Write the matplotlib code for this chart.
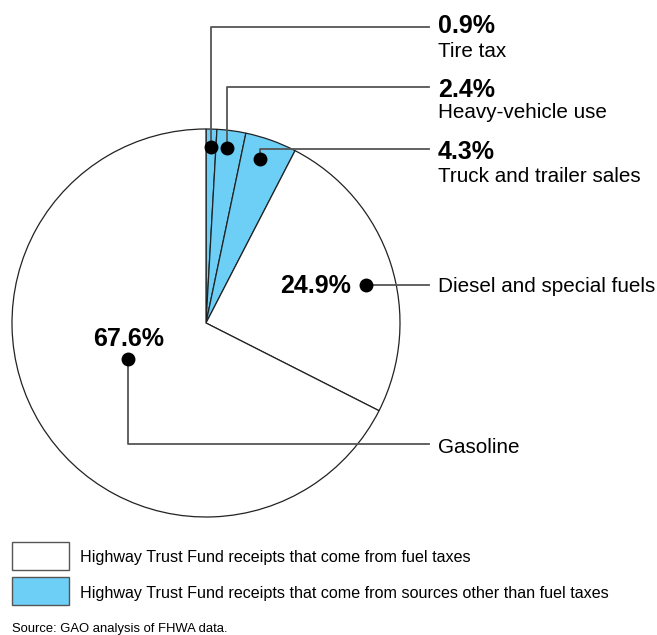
import matplotlib.pyplot as plt
from matplotlib.patches import Rectangle

plt.rcParams['font.family'] = ['Liberation Sans', 'DejaVu Sans']

# data, clockwise from 12 o'clock
names = ["Tire tax", "Heavy-vehicle use", "Truck and trailer sales",
         "Diesel and special fuels", "Gasoline"]
shares = [0.9, 2.4, 4.3, 24.9, 67.6]
is_fuel = [False, False, False, True, True]
legend_labels = ["Highway Trust Fund receipts that come from fuel taxes",
                 "Highway Trust Fund receipts that come from sources other than fuel taxes"]
source = "Source: GAO analysis of FHWA data."

FUEL = "white"
OTHER = "#6DCFF6"
W, H = 657, 635
PCT_SIZE = 18
NAME_SIZE = 14.9


def Y(y):
    # pixel row -> data y
    return H - y


fig = plt.figure(figsize=(W / 100, H / 100), dpi=100)
ax = fig.add_axes([0, 0, 1, 1])

cx, cy, r = 206, Y(323), 194
ax.pie(shares, colors=[FUEL if f else OTHER for f in is_fuel],
       startangle=90, counterclock=False, center=(cx, cy), radius=r,
       wedgeprops=dict(edgecolor='#222222', linewidth=0.9), frame=True)
ax.set_xlim(0, W)
ax.set_ylim(0, H)
ax.set_aspect('equal')
ax.axis('off')

line_kw = dict(color='#555555', lw=1.3, zorder=5)
dot_kw = dict(color='black', ms=9, marker='o', zorder=6)
tx = 438
line_end = 429

# small wedges: leader goes up then right, (dot, line row, pct baseline, name baseline)
leaders = [((211, 147), 27, 33, 57),
           ((227, 148), 87, 97, 118),
           ((260, 159), 149, 159, 182)]
for i, ((dx, dy), ly, pb, nb) in enumerate(leaders):
    ax.plot([dx, dx, line_end], [Y(dy), Y(ly), Y(ly)], **line_kw)
    ax.plot(dx, Y(dy), **dot_kw)
    ax.text(tx, Y(pb), f"{shares[i]}%", fontsize=PCT_SIZE, fontweight='bold',
            va='baseline', ha='left')
    ax.text(tx, Y(nb), names[i], fontsize=NAME_SIZE, va='baseline', ha='left')

# diesel
ax.plot([366, line_end], [Y(285), Y(285)], **line_kw)
ax.plot(366, Y(285), **dot_kw)
ax.text(351, Y(293), f"{shares[3]}%", fontsize=PCT_SIZE, fontweight='bold',
        va='baseline', ha='right')
ax.text(tx, Y(292), names[3], fontsize=NAME_SIZE, va='baseline', ha='left')

# gasoline
ax.plot([128, 128, line_end], [Y(359), Y(444), Y(444)], **line_kw)
ax.plot(128, Y(359), **dot_kw)
ax.text(129, Y(346), f"{shares[4]}%", fontsize=PCT_SIZE, fontweight='bold',
        va='baseline', ha='center')
ax.text(tx, Y(453), names[4], fontsize=NAME_SIZE, va='baseline', ha='left')

# legend
box_tops = [542, 577]
text_base = [562, 598]
for lab, col, top, tb in zip(legend_labels, [FUEL, OTHER], box_tops, text_base):
    ax.add_patch(Rectangle((12, Y(top + 28)), 57, 28, facecolor=col,
                           edgecolor='#555555', lw=1.0))
    ax.text(80, Y(tb), lab, fontsize=11.6, va='baseline', ha='left')

ax.text(12, Y(632), source, fontsize=9.4, va='baseline', ha='left')

fig.savefig("out.png", dpi=100, facecolor='white')
